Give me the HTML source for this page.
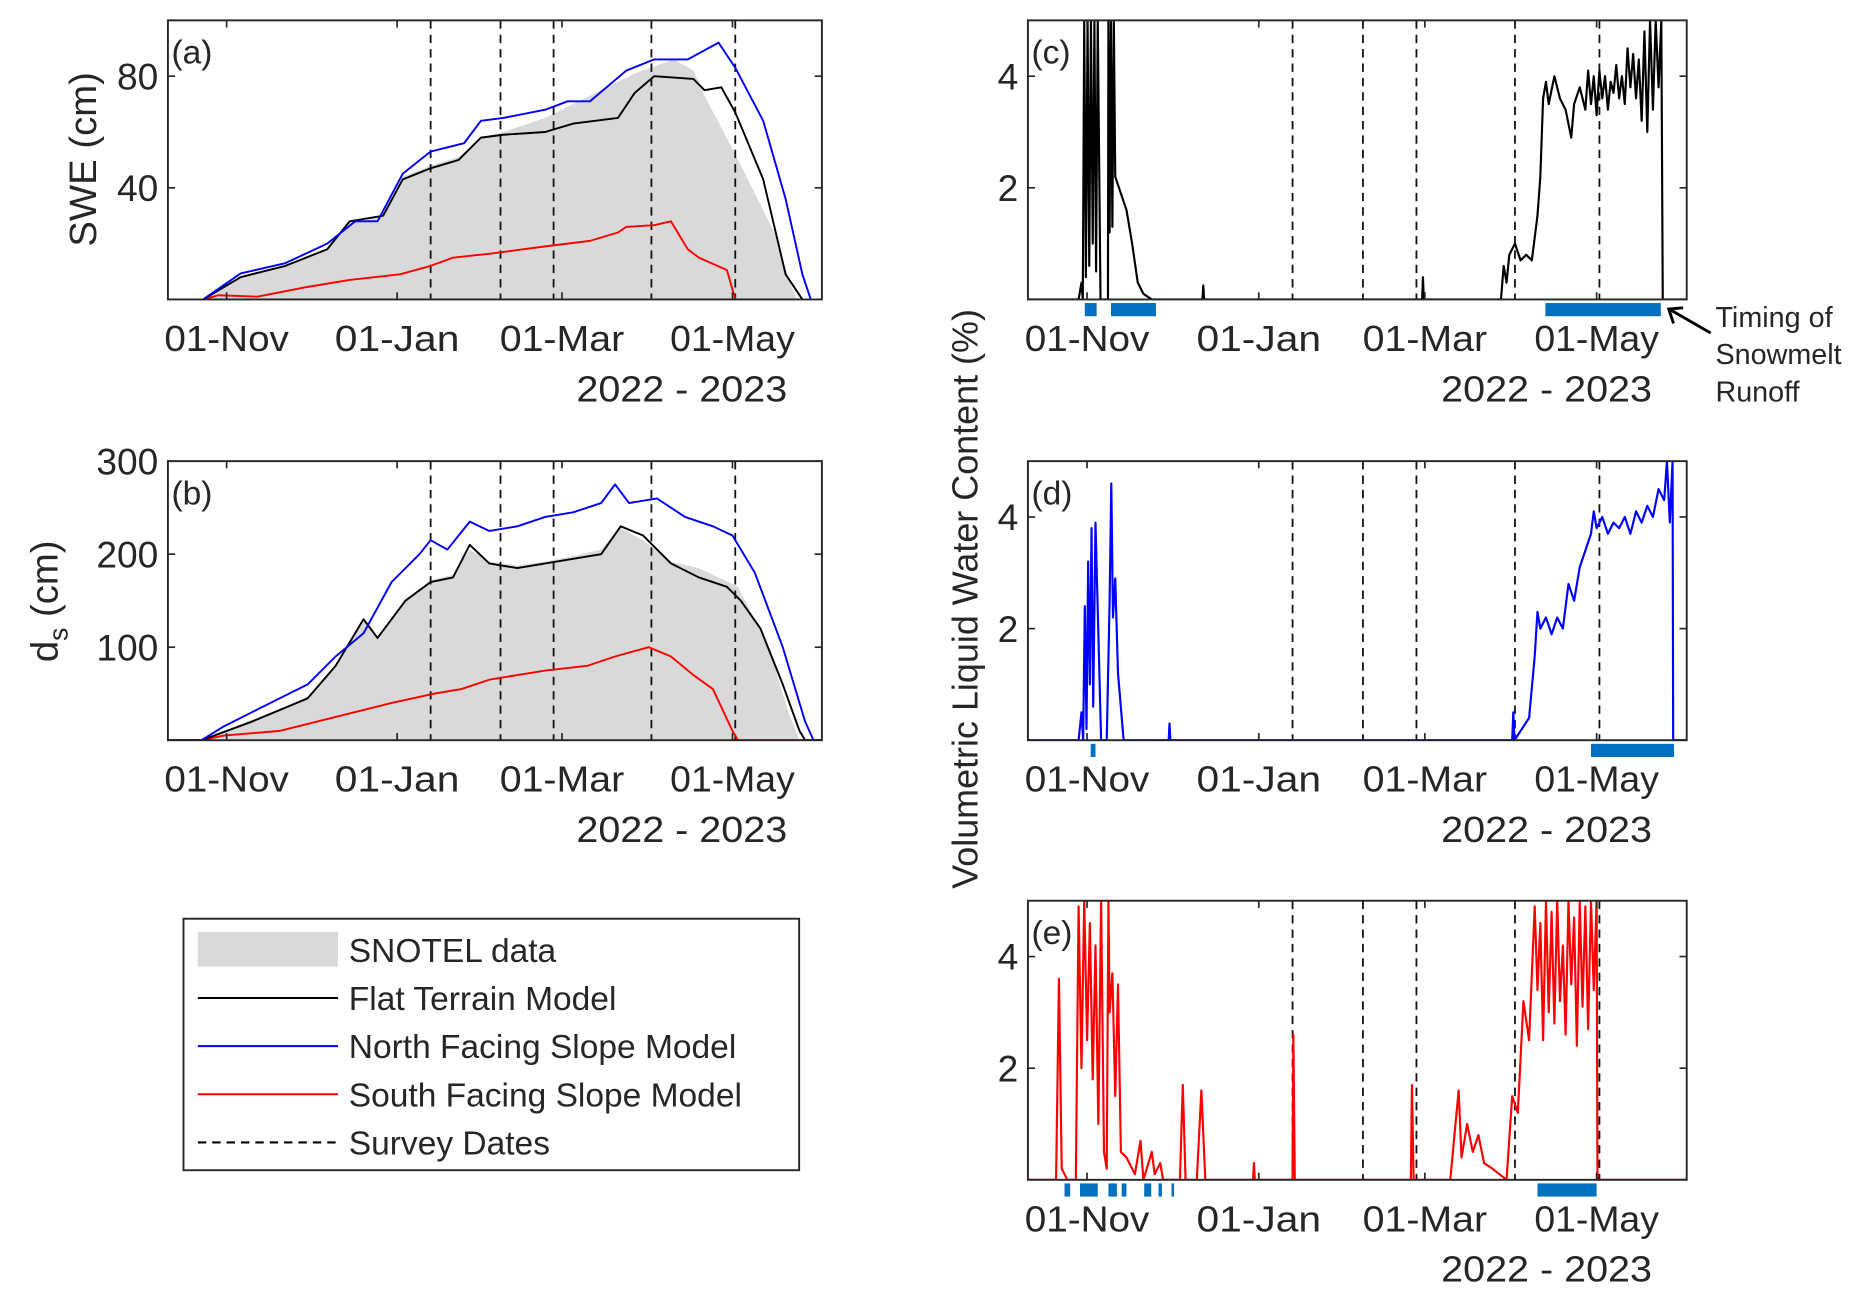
<!DOCTYPE html>
<html><head><meta charset="utf-8"><style>
html,body{margin:0;padding:0;background:#fff}
svg{display:block}
text{font-family:"Liberation Sans",sans-serif;fill:#262626}
</style></head><body>
<svg id="fig" width="1869" height="1296" viewBox="0 0 1560 1082" xmlns="http://www.w3.org/2000/svg"></svg>
<script>
// ---------- DATA ----------
const tickDays = [31, 92, 151, 212];
const tickLabels = ["01-Nov", "01-Jan", "01-Mar", "01-May"];
const surveyDays = [104, 129, 148, 183, 213];
const sweTicks = [40, 80];
const dsTicks = [100, 200, 300];
const lwcTicks = [2, 4];

const sweSnotelDays = [10,22,36,52,67,75,87,94,104,114,122,130,145,161,177,191,198,202,213,227,233,235,244];
const sweSnotel =     [0,0,8,12,18,28,30,44,48,51,58,60,65,73,81,86,82,73,52,24,5,0,0];
const sweFlatDays = [10,22.6,36,52,67,75,87,94,104,114,122,130,145,155,171,177,184,198,202,208,213,223,231,237,244];
const sweFlat =     [0,0,8,12,18,28,30,43,47,50,58,59,60,63,65,74,80,79,75,76,67,43,9,0,0];
const sweNorthDays = [10,22.6,36,52,67,77,85,94,104,116,122,130,145,153,161,174,184,196,207,213,223,231,237,240,244];
const sweNorth =     [0,0,9.3,13,20,28,28,45,53,56,64,65,68,71,71,82,86,86,92,83,64,36,9,0,0];
const sweSouthDays = [10,22.6,28,42,60,75,93,104,112,126,145,161,171,174,184,190,196,200,210,213,244];
const sweSouth =     [0,0,1.5,1,4.5,7,9,12,15,16.5,19,21,24,26,26.6,28,18,15,10.5,0,0];

const dsSnotelDays = [10,22,40,60,70,80,85,95,104,112,118,125,135,145,155,165,172,180,190,200,214,225,232,236,244];
const dsSnotel =     [0,0,22,45,80,128,112,150,172,178,205,192,188,192,198,205,228,215,192,185,165,100,30,0,0];
const dsFlatDays = [10,22,40,60,70,80,85,95,104,112,118,125,135,145,155,165,172,180,190,200,210,215,222,230,236,238,244];
const dsFlat =     [0,0,20,45,80,130,110,150,170,175,210,190,185,190,195,200,230,220,190,175,165,150,120,60,10,0,0];
const dsNorthDays = [10,22,30,40,50,60,70,80,90,100,104,110,118,125,135,145,155,165,170,175,185,195,205,212,220,230,238,241,244];
const dsNorth =     [0,0,15,30,45,60,90,115,170,200,215,205,235,225,230,240,245,255,275,255,260,240,230,220,180,100,20,0,0];
const dsSouthDays = [10,22,30,50,70,90,105,115,125,135,145,160,170,182,190,198,205,212,214,244];
const dsSouth =     [0,0,5,10,25,40,50,55,65,70,75,80,90,100,90,70,55,10,0,0];

const lwcCDays = [10,28,29,29.5,30,30.6,31.2,31.8,32.4,33,33.6,34.2,34.8,35.8,38.4,38.6,39,39.5,40,40.5,41,43,45,47,49,51,54,72,72.3,72.6,150,150.3,150.6,178,179,180,181,183,185,187,189,191,192,193,194,195,197,199,201,203,204,206,208,209,210,211,212,213,214,215,216,217,218,219,220,221,222,223,224,225,226,227,228,229,230,231,232,233,234,235,235.5,244];
const lwcC =     [0,0,0.3,0,5,0.4,5,0.6,5,1,5,0.5,5,0,0,5,1.2,5,1.3,5,2.2,1.9,1.6,1,0.3,0.1,0,0,0.25,0,0,0.4,0,0,0.6,0.3,0.8,1,0.7,0.8,0.7,1.5,2.2,3.6,3.9,3.5,4,3.6,3.4,2.9,3.5,3.8,3.4,4.1,3.5,4,3.3,4.1,3.6,4,3.4,3.9,3.7,4.2,3.6,4,3.5,4.5,3.8,4.4,3.6,4.3,3.2,4.8,3,5,3.4,5,3.8,5,0,0];
const lwcDDays = [10,28,29,29.6,30.2,30.8,31.4,32,32.6,33.2,34,36,38,39,39.6,40.2,41,42,44,60,60.3,60.6,182,182.4,182.8,188,190,191,192,194,196,198,200,202,204,206,208,210,211,212,214,216,218,220,222,224,226,228,230,232,234,236,237,238,239,239.2,244];
const lwcD =     [0,0,0.5,0,2.4,0.2,3.2,1,3.8,0.6,3.9,0,0,2.5,4.6,2.2,2.9,1.2,0,0,0.3,0,0,0.5,0,0.4,1.5,2.3,2,2.2,1.9,2.2,2,2.8,2.5,3.1,3.4,3.7,4.1,3.8,4,3.7,3.9,3.8,4,3.7,4.1,3.9,4.2,4,4.5,4.3,5,3.9,5,0,0];
const lwcEDays = [10,20,21,22,24,27,28,29,30,31,32,33,34,35,36,37,38,38.6,39,40,41,42,43,45,48,50,51,54,55,57,58,64,65,66,70,71.6,73,90,90.3,90.6,104,104.3,104.8,146,146.4,147,160,163,164,166,168,170,172,175,180,182,184,186,188,190,191,192,193,194,195,196,197,198,199,200,201,202,203,204,205,206,207,208,209,210,211,212,212.3,244];
const lwcE =     [0,0,3.6,0.2,0,0,4.9,2,5,2.5,4.6,1.8,4.2,1,5,0.5,0.2,5,3,3.7,1.5,3.5,0.5,0.4,0.1,0.7,0,0.5,0.1,0.3,0,0,1.7,0,0,1.6,0,0,0.3,0,0,2.6,0,0,1.7,0,0,1.6,0.4,1,0.5,0.8,0.3,0.2,0,1.5,1.2,3.2,2.5,4.9,3.4,4.6,2.5,5,3,4.8,2.8,5,3.2,4.2,2.6,5,3.5,4.7,2.4,5,3.1,4.9,2.7,5,3.4,5,0,0];

const runoffC = [[30.2,34.4],[39.5,55.5],[193.8,234.8]];
const runoffD = [[32.3,34],[210,239.5]];
const runoffE = [[23,25],[28.5,34.8],[38.6,41.6],[43.3,45],[51.3,53.8],[56.4,57.6],[61,61.9],[191,212]];

// ---------- DRAWING ----------
const NS = "http://www.w3.org/2000/svg";
const svg = document.getElementById("fig");
function mk(tag, attrs, parent){
  const e = document.createElementNS(NS, tag);
  for (const k in attrs) e.setAttribute(k, attrs[k]);
  (parent||svg).appendChild(e);
  return e;
}
const DMIN = 10, DMAX = 244;
function makeAxes(x0,y0,x1,y1,ymax){
  return {
    x: d => x0 + (d - DMIN) / (DMAX - DMIN) * (x1 - x0),
    y: v => y1 - v / ymax * (y1 - y0),
    x0, y0, x1, y1
  };
}
function linePts(ax, days, vals){
  return days.map((d,i)=> ax.x(d).toFixed(1)+","+ax.y(vals[i]).toFixed(1)).join(" ");
}
function drawPanel(name, ax, clipId){
  const g = mk("g", {});
  
  
  const cp = mk("clipPath", {id: clipId}, g);
  mk("rect", {x: ax.x0, y: ax.y0, width: ax.x1 - ax.x0, height: ax.y1 - ax.y0}, cp);
  return g;
}
function drawFrame(g, ax, yTicks, panelLabel){
  const fr = mk("rect", {x: ax.x0, y: ax.y0, width: ax.x1-ax.x0, height: ax.y1-ax.y0, fill:"none", stroke:"#262626", "stroke-width":1.6}, g);
  
  
  tickDays.forEach((d,i)=>{
    const x = ax.x(d);
    mk("line", {x1:x, x2:x, y1:ax.y1, y2:ax.y1-6, stroke:"#262626","stroke-width":1.4}, g);
    mk("line", {x1:x, x2:x, y1:ax.y0, y2:ax.y0+6, stroke:"#262626","stroke-width":1.4}, g);
    const t = mk("text", {x:x, y:ax.y1+43, "font-size":30, "text-anchor":"middle", textLength:104, lengthAdjust:"spacingAndGlyphs"}, g);
    t.textContent = tickLabels[i];
    
    
  });
  yTicks.forEach(v=>{
    const y = ax.y(v);
    mk("line", {x1:ax.x0, x2:ax.x0+6, y1:y, y2:y, stroke:"#262626","stroke-width":1.4}, g);
    mk("line", {x1:ax.x1, x2:ax.x1-6, y1:y, y2:y, stroke:"#262626","stroke-width":1.4}, g);
    const t = mk("text", {x:ax.x0-8, y:y+11, "font-size":31, "text-anchor":"end"}, g);
    t.textContent = v;
    
    
  });
  const yr = mk("text", {x:ax.x1-29, y:ax.y1+85, "font-size":30, "text-anchor":"end", textLength:176, lengthAdjust:"spacingAndGlyphs"}, g);
  yr.textContent = "2022 - 2023";
  
  
  const pl = mk("text", {x:ax.x0+3, y:ax.y0+36, "font-size":28}, g);
  pl.textContent = panelLabel;
  
  
}
function drawSurvey(g, ax){
  surveyDays.forEach(d=>{
    const l = mk("line", {x1:ax.x(d), x2:ax.x(d), y1:ax.y0, y2:ax.y1, stroke:"#111","stroke-width":1.5,"stroke-dasharray":"7,5"}, g);
    
    
  });
}
function drawLine(g, ax, days, vals, color, name, clip, w){
  const p = mk("polyline", {points: linePts(ax, days, vals), fill:"none", stroke:color, "stroke-width":w||1.6, "stroke-linejoin":"round", "clip-path":"url(#"+clip+")"}, g);
  
  
}
function drawArea(g, ax, days, vals, name, clip){
  const pts = linePts(ax, days, vals) + " " + ax.x(days[days.length-1]) + "," + ax.y(0) + " " + ax.x(days[0]) + "," + ax.y(0);
  const p = mk("polygon", {points: pts, fill:"#d9d9d9", stroke:"none", "clip-path":"url(#"+clip+")"}, g);
  
  
}
function drawRunoff(g, ax, spans){
  spans.forEach(s=>{
    const r = mk("rect", {x: ax.x(s[0]), y: ax.y1+3, width: Math.max(2, ax.x(s[1])-ax.x(s[0])), height: 11, fill:"#0070c0"}, g);
    
    
  });
}

const axA = makeAxes(140,17,686,250,100);
const gA = drawPanel("panel-a-swe", axA, "clipA");
drawArea(gA, axA, sweSnotelDays, sweSnotel, "snotel-swe-area", "clipA");
drawSurvey(gA, axA);
drawLine(gA, axA, sweSouthDays, sweSouth, "#ff0000", "south-slope-swe-line", "clipA");
drawLine(gA, axA, sweFlatDays, sweFlat, "#000", "flat-terrain-swe-line", "clipA");
drawLine(gA, axA, sweNorthDays, sweNorth, "#0000ff", "north-slope-swe-line", "clipA");
drawFrame(gA, axA, sweTicks, "(a)");

const axB = makeAxes(140,385,686,618,300);
const gB = drawPanel("panel-b-depth", axB, "clipB");
drawArea(gB, axB, dsSnotelDays, dsSnotel, "snotel-depth-area", "clipB");
drawSurvey(gB, axB);
drawLine(gB, axB, dsSouthDays, dsSouth, "#ff0000", "south-slope-depth-line", "clipB");
drawLine(gB, axB, dsFlatDays, dsFlat, "#000", "flat-terrain-depth-line", "clipB");
drawLine(gB, axB, dsNorthDays, dsNorth, "#0000ff", "north-slope-depth-line", "clipB");
drawFrame(gB, axB, dsTicks, "(b)");

const axC = makeAxes(858,17,1408,250,5);
const gC = drawPanel("panel-c-lwc-flat", axC, "clipC");
drawSurvey(gC, axC);
drawLine(gC, axC, lwcCDays, lwcC, "#000", "flat-lwc-line", "clipC", 1.8);
drawRunoff(gC, axC, runoffC);
drawFrame(gC, axC, lwcTicks, "(c)");

const axD = makeAxes(858,385,1408,618,5);
const gD = drawPanel("panel-d-lwc-north", axD, "clipD");
drawSurvey(gD, axD);
drawLine(gD, axD, lwcDDays, lwcD, "#0000ff", "north-lwc-line", "clipD", 1.8);
drawRunoff(gD, axD, runoffD);
drawFrame(gD, axD, lwcTicks, "(d)");

const axE = makeAxes(858,752,1408,985,5);
const gE = drawPanel("panel-e-lwc-south", axE, "clipE");
drawSurvey(gE, axE);
drawLine(gE, axE, lwcEDays, lwcE, "#ff0000", "south-lwc-line", "clipE", 1.8);
drawRunoff(gE, axE, runoffE);
drawFrame(gE, axE, lwcTicks, "(e)");
</script>
<script>
(function(){
const NS="http://www.w3.org/2000/svg", svg=document.getElementById("fig");
function t(x,y,s,txt,name,extra){
  const e=document.createElementNS(NS,"text");
  e.setAttribute("x",x);e.setAttribute("y",y);e.setAttribute("font-size",s);
  if(extra) for(const k in extra) e.setAttribute(k,extra[k]);
  e.textContent=txt;
  
  
  svg.appendChild(e);return e;
}
t(80,133,32,"SWE (cm)","y-axis-title-swe",{"text-anchor":"middle",transform:"rotate(-90 80 133)"});
const ds=t(48,502,32,"d","y-axis-title-depth",{"text-anchor":"middle",transform:"rotate(-90 48 502)"});
ds.innerHTML='d<tspan font-size="22" dy="8">s</tspan><tspan dy="-8"> (cm)</tspan>';
t(816,500,30,"Volumetric Liquid Water Content (%)","y-axis-title-lwc",{"text-anchor":"middle",transform:"rotate(-90 816 500)"});
t(1432,273,24,"Timing of","annotation-runoff-line1");
t(1432,304,24,"Snowmelt","annotation-runoff-line2");
t(1432,335,24,"Runoff","annotation-runoff-line3");
const ar=document.createElementNS(NS,"g");


ar.innerHTML='<line x1="1428" y1="278" x2="1395" y2="259" stroke="#000" stroke-width="2.4"/><polyline points="1397,270 1393,258 1405,257" fill="none" stroke="#000" stroke-width="2.4"/>';
svg.appendChild(ar);
const lg=document.createElementNS(NS,"g");


svg.appendChild(lg);
const box=document.createElementNS(NS,"rect");
box.setAttribute("x",153);box.setAttribute("y",767);box.setAttribute("width",514);box.setAttribute("height",210);
box.setAttribute("fill","#fff");box.setAttribute("stroke","#262626");box.setAttribute("stroke-width",1.6);
lg.appendChild(box);
const items=[["SNOTEL data","area","#d9d9d9"],["Flat Terrain Model","line","#000"],["North Facing Slope Model","line","#0000ff"],["South Facing Slope Model","line","#ff0000"],["Survey Dates","dash","#000"]];
items.forEach((it,i)=>{
  const y=793+i*40.2;
  const g=document.createElementNS(NS,"g");
  
  
  if(it[1]=="area") g.innerHTML='<rect x="165" y="'+(y-15)+'" width="117" height="29" fill="#d9d9d9"/>';
  else g.innerHTML='<line x1="165" x2="282" y1="'+y+'" y2="'+y+'" stroke="'+it[2]+'" stroke-width="1.7"'+(it[1]=="dash"?' stroke-dasharray="7,5"':'')+'/>';
  const tx=document.createElementNS(NS,"text");
  tx.setAttribute("x",291);tx.setAttribute("y",y+10);tx.setAttribute("font-size",28);
  tx.textContent=it[0];
  g.appendChild(tx);
  lg.appendChild(g);
});
})();
</script>
</body></html>
